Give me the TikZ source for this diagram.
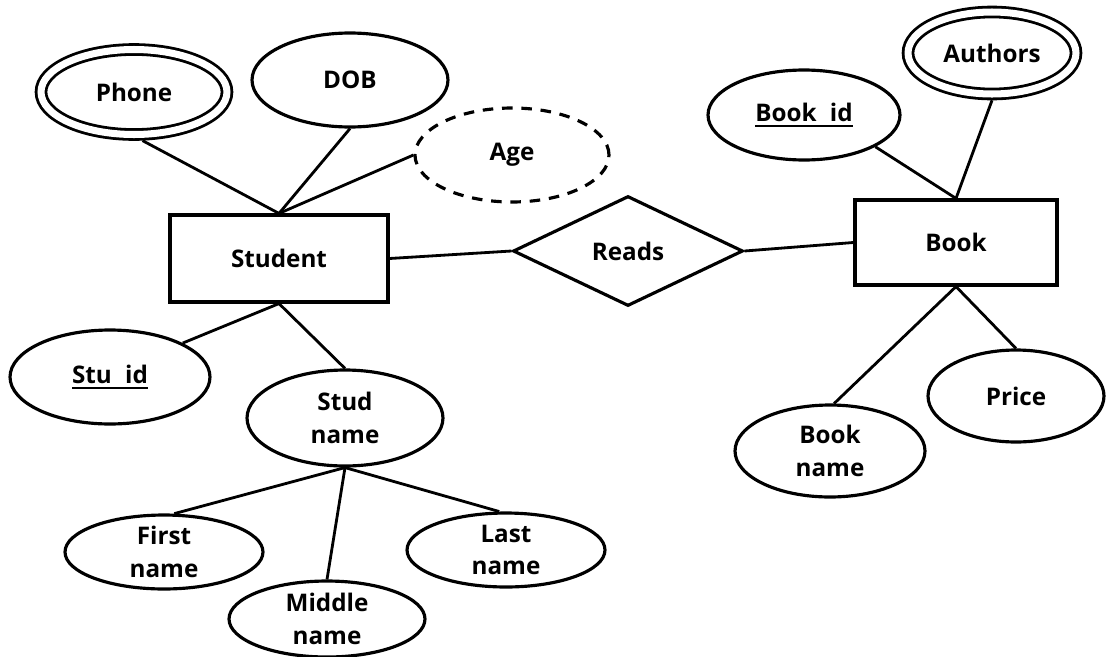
\documentclass[tikz,border=0pt]{standalone}
\usepackage{fontspec}
\setmainfont{Open Sans}
\usetikzlibrary{shapes.geometric}
% key attribute: text with a thick underline
\newcommand\keyattr[1]{\setbox0\hbox{#1}\rlap{\rule[-3.6pt]{\wd0}{1.5pt}}\box0}
\begin{document}
\begin{tikzpicture}[x=0.02cm,y=-0.02cm,
  line width=1.8pt,
  txt/.style={align=center,font=\bfseries\fontsize{13.8}{18.5}\selectfont},
  entity/.style={draw,rectangle,inner sep=0pt,txt},
  attr/.style={draw,ellipse,inner sep=0pt},
  multi/.style={attr,line width=1.6pt,double,double distance=4pt,outer sep=3.6pt},
  derived/.style={attr,dash pattern=on 6pt off 5pt},
  rel/.style={draw,diamond,aspect=2,inner sep=0pt,txt},
  conn/.style={line width=1.6pt}]
\useasboundingbox (0,0) rectangle (1111,656);

% entities and relationship
\node[entity,minimum width=4.36cm,minimum height=1.74cm] (student) at (279,258.5) {Student};
\node[entity,minimum width=4.04cm,minimum height=1.70cm] (book) at (956,242.5) {Book};
\node[rel,minimum width=4.6cm,minimum height=2.2cm] (reads) at (628,251) {Reads};

% student attributes
\node[multi,minimum width=3.72cm,minimum height=1.70cm,label={[txt]center:Phone}] (phone) at (134,92) {};
\node[attr,minimum width=3.92cm,minimum height=1.88cm,label={[txt]center:DOB}] (dob) at (350,80) {};
\node[derived,minimum width=3.88cm,minimum height=1.88cm,label={[txt]center:Age}] (age) at (512,155) {};
\node[attr,minimum width=4.0cm,minimum height=1.88cm,label={[txt]center:\keyattr{Stu\hspace{0.55em}id}}] (stuid) at (110,377) {};
\node[attr,minimum width=3.92cm,minimum height=1.92cm,label={[txt]center:Stud\\name}] (studname) at (345,418) {};
\node[attr,minimum width=3.96cm,minimum height=1.48cm,label={[txt]center:First\\name}] (first) at (164,552) {};
\node[attr,minimum width=3.92cm,minimum height=1.52cm,label={[txt]center:Middle\\name}] (middle) at (327,619) {};
\node[attr,minimum width=3.96cm,minimum height=1.48cm,label={[txt]center:Last\\name}] (last) at (506,550) {};

% book attributes
\node[attr,minimum width=3.84cm,minimum height=1.80cm,label={[txt]center:\keyattr{Book\hspace{0.55em}id}}] (bookid) at (804,115) {};
\node[multi,minimum width=3.36cm,minimum height=1.64cm,label={[txt]center:Authors}] (authors) at (992,53) {};
\node[attr,minimum width=3.80cm,minimum height=1.84cm,label={[txt]center:Book\\name}] (bookname) at (830,451) {};
\node[attr,minimum width=3.52cm,minimum height=1.84cm,label={[txt]center:Price}] (price) at (1016,396) {};

% connectors
\draw[conn] (phone.280) -- (student.north);
\draw[conn] (dob.south) -- (student.north);
\draw[conn] (age.west) -- (student.north);
\draw[conn] (student.south) -- (stuid.25);
\draw[conn] (student.south) -- (studname.north);
\draw[conn] (studname.south) -- (first.75);
\draw[conn] (studname.south) -- (middle.north);
\draw[conn] (studname.south) -- (last.100);
\draw[conn] (student.east) -- (reads.west);
\draw[conn] (reads.east) -- (book.west);
\draw[conn] (bookid.336) -- (book.north);
\draw[conn] (authors.south) -- (book.north);
\draw[conn] (book.south) -- (bookname.85);
\draw[conn] (book.south) -- (price.north);
\end{tikzpicture}
\end{document}
